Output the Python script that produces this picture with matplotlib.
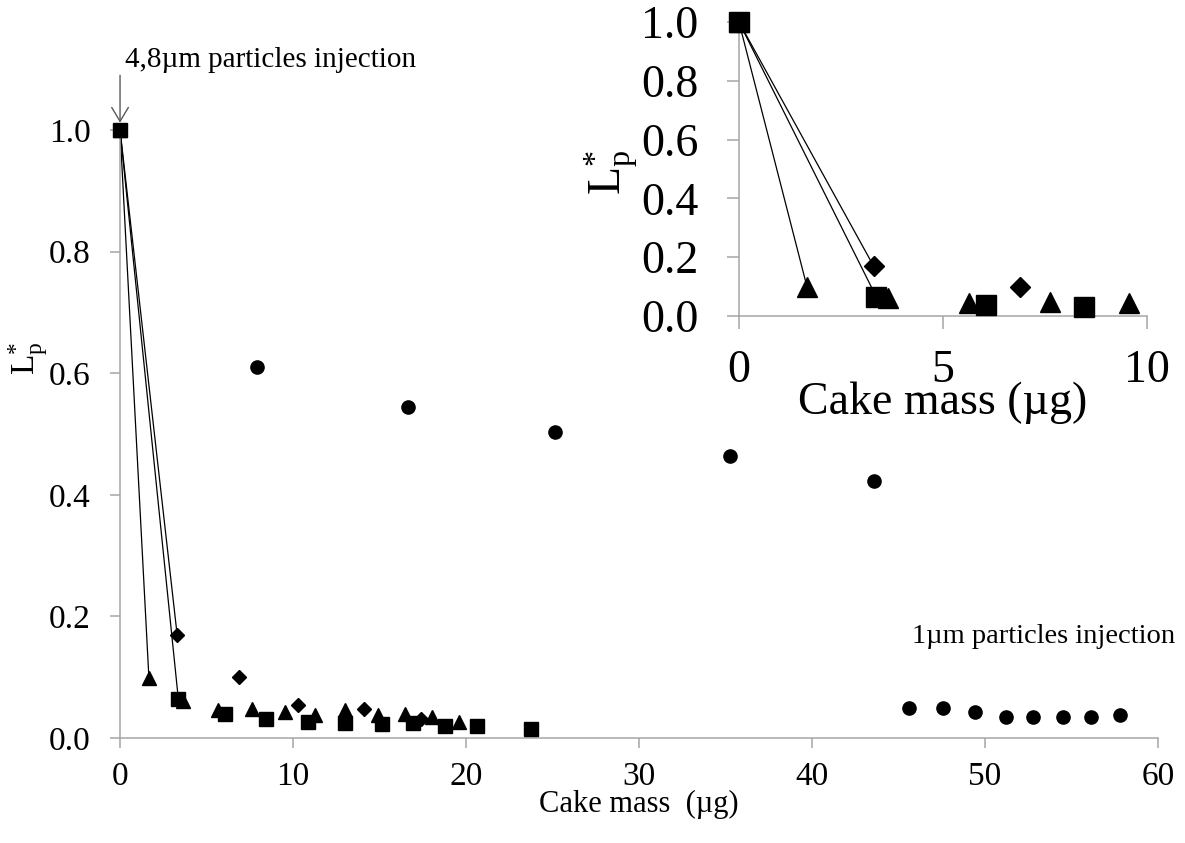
import matplotlib
matplotlib.use('Agg')
import matplotlib.pyplot as plt

# cake mass (ug) and normalised penetration Lp* for each run
diamond_x = [0, 3.30, 6.90, 10.30, 14.10, 17.37]
diamond_y = [1.0, 0.170, 0.100, 0.055, 0.047, 0.032]

square_x = [0, 3.37, 6.06, 8.46, 10.85, 13.02, 15.16, 16.92, 18.79, 20.64, 23.76]
square_y = [1.0, 0.064, 0.039, 0.031, 0.027, 0.025, 0.023, 0.024, 0.020, 0.020, 0.015]

triangle_x = [0, 1.67, 3.66, 5.64, 7.63, 9.56, 11.25, 13.02, 14.90, 16.45, 18.04, 19.62]
triangle_y = [1.0, 0.098, 0.060, 0.046, 0.047, 0.043, 0.037, 0.046, 0.037, 0.039, 0.034, 0.027]

circle_x = [7.89, 16.64, 25.14, 35.24, 43.60, 45.60, 47.60, 49.40, 51.20, 52.80, 54.50, 56.10, 57.80]
circle_y = [0.610, 0.544, 0.503, 0.464, 0.422, 0.050, 0.049, 0.042, 0.035, 0.035, 0.035, 0.035, 0.037]

plt.rcParams['font.family'] = ['Liberation Serif', 'DejaVu Serif']
plt.rcParams['mathtext.fontset'] = 'custom'
plt.rcParams['mathtext.rm'] = 'Liberation Serif'
plt.rcParams['mathtext.it'] = 'Liberation Serif:italic'

grey = '#a6a6a6'
ylab = r'$\mathrm{L}_\mathrm{p}^{*}$'


def style_axes(ax, size, tick_len, xpad, ypad):
    for side in ('top', 'right'):
        ax.spines[side].set_visible(False)
    for side in ('left', 'bottom'):
        ax.spines[side].set_color(grey)
        ax.spines[side].set_linewidth(1.1)
    ax.tick_params(axis='both', direction='out', color=grey, width=1.1,
                   length=tick_len, labelsize=size)
    ax.tick_params(axis='x', pad=xpad)
    ax.tick_params(axis='y', pad=ypad)


def upto(xs, ys, xmax):
    pts = [(x, y) for x, y in zip(xs, ys) if x <= xmax]
    return [p[0] for p in pts], [p[1] for p in pts]


def draw_runs(ax, ms, xmax):
    runs = [upto(triangle_x, triangle_y, xmax),
            upto(square_x, square_y, xmax),
            upto(diamond_x, diamond_y, xmax)]
    # only the first drop after injection is joined by a line
    for xs, ys in runs:
        ax.plot(xs[:2], ys[:2], color='black', lw=0.9, clip_on=False, zorder=2)
    (tx, ty), (sx, sy), (dx, dy) = runs
    ax.plot(dx, dy, 'kD', ms=ms * 0.68, ls='none', clip_on=False, zorder=3)
    ax.plot(tx, ty, 'k^', ms=ms, ls='none', clip_on=False, zorder=3)
    ax.plot(sx, sy, 'ks', ms=ms, ls='none', clip_on=False, zorder=4)


fig = plt.figure(figsize=(11.85, 8.43), dpi=100)

ax = fig.add_axes([0.1013, 0.1246, 0.8759, 0.7212])
draw_runs(ax, 10, 60)
ax.plot(circle_x, circle_y, 'ko', ms=9.5, ls='none', clip_on=False, zorder=3)
ax.set_xlim(0, 60)
ax.set_ylim(0, 1.0)
ax.set_xticks(range(0, 61, 10))
ax.set_yticks([0, 0.2, 0.4, 0.6, 0.8, 1.0])
ax.set_yticklabels(['0.0', '0.2', '0.4', '0.6', '0.8', '1.0'])
style_axes(ax, 24, 7, 10, 14)
ax.set_xlabel('Cake mass  (\u00b5g)', fontsize=22)
ax.xaxis.set_label_coords(0.5, -0.085)
ax.set_ylabel(ylab, fontsize=24, rotation=90)
ax.yaxis.set_label_coords(-0.067, 0.625)

ax.annotate('', xy=(0, 1.012), xytext=(0, 1.09),
            arrowprops=dict(arrowstyle='->,head_length=0.5,head_width=0.3',
                            color='#595959', lw=1.0, mutation_scale=20,
                            shrinkA=0, shrinkB=0),
            annotation_clip=False)
ax.text(0.3, 1.115, '4,8\u00b5m particles injection', fontsize=21,
        va='center', ha='left', clip_on=False)
ax.text(45.76, 0.167, '1\u00b5m particles injection', fontsize=20.5,
        va='center', ha='left')

# zoom on the first 10 ug
inset = fig.add_axes([0.6236, 0.6251, 0.3443, 0.3488])
draw_runs(inset, 15, 10)
inset.set_xlim(0, 10)
inset.set_ylim(0, 1.0)
inset.set_xticks([0, 5, 10])
inset.set_yticks([0, 0.2, 0.4, 0.6, 0.8, 1.0])
inset.set_yticklabels(['0.0', '0.2', '0.4', '0.6', '0.8', '1.0'])
style_axes(inset, 33, 9, 15, 20)
inset.set_xlabel('Cake mass (\u00b5g)', fontsize=33)
inset.xaxis.set_label_coords(0.5, -0.222)
inset.set_ylabel(ylab, fontsize=33, rotation=90)
inset.yaxis.set_label_coords(-0.243, 0.49)

fig.savefig('out.png', dpi=100)
